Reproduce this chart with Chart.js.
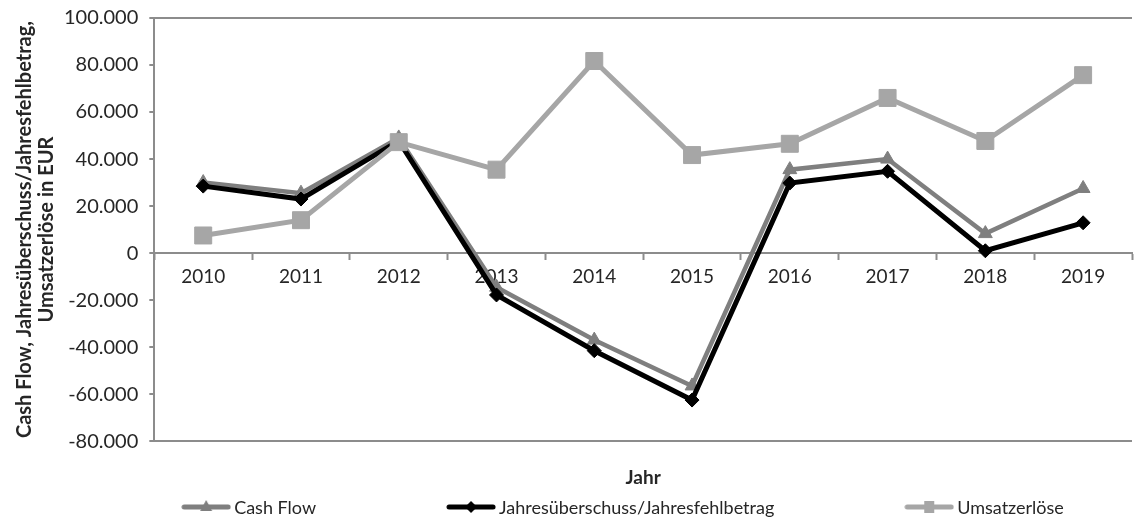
<!DOCTYPE html>
<html>
<head>
<meta charset="utf-8">
<script src="https://cdn.jsdelivr.net/npm/chart.js@4/dist/chart.umd.min.js"></script>
<style>
    html, body { margin: 0; padding: 0; background: #fff; }
    #wrap { width: 1145px; height: 517px; }
</style>
</head>
<body>
<div id="wrap"><canvas id="chart"></canvas></div>
<script>
const jahre = ['2010', '2011', '2012', '2013', '2014', '2015', '2016', '2017', '2018', '2019'];
const cashFlow = [30000, 25500, 49000, -14500, -37000, -56500, 35500, 40000, 8300, 27500];
const jahresergebnis = [28500, 23000, 47700, -17800, -41500, -62500, 29800, 34800, 1000, 12900];
const umsatzerloese = [7500, 14000, 47200, 35500, 81700, 41700, 46500, 66000, 47700, 75700];
const yTicks = [-80000, -60000, -40000, -20000, 0, 20000, 40000, 60000, 80000, 100000];

const FONT = 'Lato, "Open Sans", sans-serif';
const TEXT = '#262626';
const AXIS = '#8c8c8c';

// kleines Bild fuer die Legende: Linie mit Marker in der Mitte
function legendBild(farbe, marker) {
    const c = document.createElement('canvas');
    c.width = 50;
    c.height = 16;
    const g = c.getContext('2d');
    g.strokeStyle = farbe;
    g.fillStyle = farbe;
    g.lineWidth = 5;
    g.lineCap = 'round';
    g.beginPath();
    g.moveTo(3, 8);
    g.lineTo(47, 8);
    g.stroke();
    g.beginPath();
    if (marker === 'triangle') {
        g.moveTo(25, 1); g.lineTo(31, 12); g.lineTo(19, 12);
    } else if (marker === 'rectRot') {
        g.moveTo(25, 2); g.lineTo(31, 8); g.lineTo(25, 14); g.lineTo(19, 8);
    } else {
        g.rect(20, 2, 10, 12);
    }
    g.closePath();
    g.fill();
    return c;
}

// Legende unten mit weiten Abstaenden wie im Original
const legendeUnten = {
    id: 'legendeUnten',
    afterDraw(chart, args, opts) {
        const ctx = chart.ctx;
        ctx.save();
        ctx.font = opts.size + 'px ' + FONT;
        ctx.textBaseline = 'middle';
        ctx.fillStyle = TEXT;
        const items = chart.data.datasets.map(ds => {
            const tw = ctx.measureText(ds.label).width;
            return { ds: ds, bild: legendBild(ds.borderColor, ds.pointStyle), w: 50 + 3 + tw };
        });
        const total = items.reduce((s, it) => s + it.w, 0) + opts.abstand * (items.length - 1);
        let x = chart.width / 2 + opts.verschiebung - total / 2;
        const y = chart.height - opts.unten;
        items.forEach(it => {
            ctx.drawImage(it.bild, x, y - 8);
            ctx.fillText(it.ds.label, x + 53, y + 1);
            x += it.w + opts.abstand;
        });
        ctx.restore();
    }
};

const datasets = [
    {
        label: 'Cash Flow',
        data: cashFlow,
        borderColor: '#7f7f7f',
        backgroundColor: '#7f7f7f',
        borderWidth: 4.5,
        pointStyle: 'triangle',
        pointRadius: 8,
        order: 2
    },
    {
        label: 'Jahresüberschuss/Jahresfehlbetrag',
        data: jahresergebnis,
        borderColor: '#000000',
        backgroundColor: '#000000',
        borderWidth: 5,
        pointStyle: 'rectRot',
        pointRadius: 7,
        order: 1
    },
    {
        label: 'Umsatzerlöse',
        data: umsatzerloese,
        borderColor: '#a6a6a6',
        backgroundColor: '#a6a6a6',
        borderWidth: 5,
        pointStyle: 'rect',
        pointRadius: 12,
        order: 0
    }
];
datasets.forEach(ds => {
    ds.tension = 0;
    ds.pointBorderWidth = 1;
    ds.pointBorderColor = ds.borderColor;
    ds.pointHoverRadius = ds.pointRadius;
});

const fmt = v => v.toLocaleString('de-DE');

new Chart(document.getElementById('chart'), {
    type: 'line',
    data: { labels: jahre, datasets: datasets },
    plugins: [legendeUnten],
    options: {
        responsive: true,
        maintainAspectRatio: false,
        animation: false,
        events: [],
        layout: { padding: { top: 0, right: 0, left: 14, bottom: 28 } },
        scales: {
            x: {
                position: { y: 0 },
                offset: true,
                grid: {
                    offset: true,
                    drawOnChartArea: false,
                    drawTicks: true,
                    tickLength: 6,
                    tickColor: AXIS,
                    tickWidth: 2
                },
                border: { display: true, color: AXIS, width: 2 },
                ticks: {
                    color: TEXT,
                    font: { family: FONT, size: 19 },
                    padding: 6,
                    maxRotation: 0
                }
            },
            xTitel: {
                type: 'category',
                position: 'bottom',
                grid: { display: false, drawTicks: false },
                border: { display: false },
                ticks: { display: false },
                title: {
                    display: true,
                    text: 'Jahr',
                    color: TEXT,
                    font: { family: FONT, size: 19, weight: 'bold' },
                    padding: { top: 25, bottom: 0 }
                }
            },
            y: {
                min: yTicks[0],
                max: yTicks[yTicks.length - 1],
                afterBuildTicks: axis => { axis.ticks = yTicks.map(v => ({ value: v })); },
                grid: {
                    color: c => (c.tick && (c.tick.value === yTicks[0] || c.tick.value === yTicks[yTicks.length - 1])) ? AXIS : 'rgba(0,0,0,0)',
                    lineWidth: 2,
                    drawTicks: true,
                    tickLength: 10,
                    tickBorderDash: [5, 5],
                    tickBorderDashOffset: 5,
                    tickColor: AXIS,
                    tickWidth: 2
                },
                border: { display: true, color: AXIS, width: 2 },
                ticks: {
                    color: TEXT,
                    font: { family: FONT, size: 20 },
                    padding: 6,
                    callback: v => fmt(v)
                },
                title: {
                    display: true,
                    text: ['Cash Flow, Jahresüberschuss/Jahresfehlbetrag,', 'Umsatzerlöse in EUR'],
                    color: TEXT,
                    font: { family: FONT, size: 20, weight: 'bold', lineHeight: 1.1 },
                    padding: { top: 0, bottom: 0 }
                }
            }
        },
        plugins: {
            tooltip: { enabled: false },
            legend: { display: false },
            legendeUnten: { size: 18, abstand: 130, verschiebung: 50, unten: 10 }
        }
    }
});
</script>
</body>
</html>
